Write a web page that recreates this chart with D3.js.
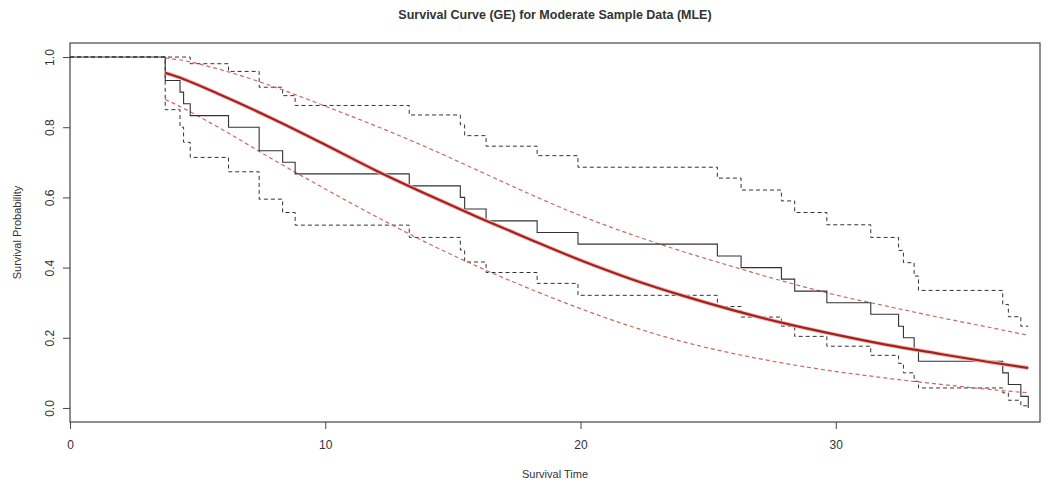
<!DOCTYPE html>
<html>
<head>
<meta charset="utf-8">
<script src="https://cdn.jsdelivr.net/npm/d3@7"></script>
<style>
  html, body { margin: 0; padding: 0; background: #fff; }
  svg { display: block; }
  text { font-family: "Liberation Sans", Arial, sans-serif; fill: #333; }
</style>
</head>
<body>
<svg id="chart" width="1059" height="488"></svg>
<script>
// ---- Kaplan-Meier estimate (step function) ----
const kmTime = [0, 3.73, 4.31, 4.45, 4.71, 6.21, 7.41, 8.33, 8.82, 13.29, 15.29, 15.46, 16.30, 18.30, 19.90,
                25.36, 26.29, 27.87, 28.39, 29.65, 31.37, 32.46, 32.65, 33.07, 33.24, 36.54, 36.76, 37.25, 37.54];
const kmSurv = [1, 0.933, 0.9, 0.867, 0.833, 0.8, 0.733, 0.7, 0.667, 0.633, 0.6, 0.567, 0.533, 0.5, 0.467,
                0.433, 0.4, 0.367, 0.333, 0.3, 0.267, 0.233, 0.2, 0.167, 0.133, 0.1, 0.067, 0.033, 0];
// KM confidence limits (same step times, last step carried to the final time)
const kmUpper = [1, 1, 1, 1, 0.981, 0.959, 0.914, 0.89, 0.862, 0.835, 0.807, 0.776, 0.746, 0.719, 0.686,
                 0.655, 0.621, 0.59, 0.557, 0.522, 0.486, 0.449, 0.414, 0.376, 0.335, 0.295, 0.26, 0.233, 0.233];
const kmLower = [1, 0.85, 0.80, 0.757, 0.714, 0.673, 0.595, 0.557, 0.521, 0.486, 0.45, 0.416, 0.386, 0.355, 0.321,
                 0.289, 0.259, 0.233, 0.204, 0.176, 0.15, 0.127, 0.1, 0.076, 0.057, 0.043, 0.022, 0.006, 0.006];

// ---- Fitted GE survival curve (MLE) with confidence band ----
const fitTime  = [3.73, 4, 6, 8, 10, 12, 14, 16, 18, 20, 22, 24, 26, 28, 30, 32, 34, 36, 37.54];
const fitSurv  = [0.955, 0.949, 0.889, 0.822, 0.750, 0.676, 0.608, 0.543, 0.481, 0.421, 0.367, 0.320, 0.278, 0.241, 0.209, 0.180, 0.155, 0.131, 0.114];
const fitUpper = [0.997, 0.995, 0.962, 0.915, 0.860, 0.803, 0.742, 0.676, 0.610, 0.548, 0.494, 0.446, 0.402, 0.360, 0.322, 0.290, 0.259, 0.230, 0.207];
const fitLower = [0.879, 0.870, 0.792, 0.706, 0.624, 0.545, 0.470, 0.402, 0.340, 0.283, 0.232, 0.189, 0.155, 0.127, 0.104, 0.085, 0.068, 0.053, 0.043];

// ---- axes ----
const xTicks = [0, 10, 20, 30];
const yTicks = [0.0, 0.2, 0.4, 0.6, 0.8, 1.0];
const title = "Survival Curve (GE) for Moderate Sample Data (MLE)";
const xLabel = "Survival Time";
const yLabel = "Survival Probability";

const svg = d3.select("#chart");
const L = 70, R = 1040, T = 43, B = 422;

const x = d3.scaleLinear().domain([0, 38]).range([L, R]);
const y = d3.scaleLinear().domain([-0.04, 1.04]).range([B, T]);

// frame
svg.append("rect").attr("x", L).attr("y", T).attr("width", R - L).attr("height", B - T)
  .attr("fill", "none").attr("stroke", "#444").attr("stroke-width", 1.2);

// x axis
const xAxis = d3.axisBottom(x).tickValues(xTicks).tickFormat(d3.format("d")).tickSize(7).tickSizeOuter(0);
const gx = svg.append("g").attr("transform", `translate(0,${B})`).call(xAxis);
gx.select(".domain").remove();
gx.selectAll(".tick line").attr("stroke", "#444");
gx.selectAll(".tick text").attr("dy", "1.45em").attr("font-size", 12)
  .style("font-family", "'Liberation Sans', Arial, sans-serif").attr("fill", "#333");

// y axis
const yAxis = d3.axisLeft(y).tickValues(yTicks).tickFormat(d3.format(".1f")).tickSize(7).tickSizeOuter(0);
const gy = svg.append("g").attr("transform", `translate(${L},0)`).call(yAxis);
gy.select(".domain").remove();
gy.selectAll(".tick line").attr("stroke", "#444");
gy.selectAll(".tick text")
  .attr("x", 0).attr("dy", 0)
  .attr("transform", "translate(-16,0) rotate(-90)")
  .attr("text-anchor", "middle")
  .attr("font-size", 12)
  .style("font-family", "'Liberation Sans', Arial, sans-serif").attr("fill", "#333");

// titles
svg.append("text").attr("x", (L + R) / 2).attr("y", 19).attr("text-anchor", "middle")
  .attr("font-size", 12.5).attr("font-weight", "bold").attr("fill", "#222").text(title);
svg.append("text").attr("x", (L + R) / 2).attr("y", 478).attr("text-anchor", "middle")
  .attr("font-size", 11).text(xLabel);
svg.append("text").attr("transform", `translate(21,${(T + B) / 2}) rotate(-90)`).attr("text-anchor", "middle")
  .attr("font-size", 11).text(yLabel);

const plot = svg.append("g");

const stepLine = d3.line().x(d => x(d[0])).y(d => y(d[1])).curve(d3.curveStepAfter);
const smooth = d3.line().x(d => x(d[0])).y(d => y(d[1])).curve(d3.curveMonotoneX);

// KM confidence limits (dashed black)
[kmUpper, kmLower].forEach(arr => {
  const pts = kmTime.map((t, i) => [t, arr[i]]);
  plot.append("path").attr("d", stepLine(pts)).attr("fill", "none")
    .attr("stroke", "#333").attr("stroke-width", 1).attr("stroke-dasharray", "4,3");
});

// fitted CI (dashed red)
[fitUpper, fitLower].forEach(arr => {
  const pts = fitTime.map((t, i) => [t, arr[i]]);
  plot.append("path").attr("d", smooth(pts)).attr("fill", "none")
    .attr("stroke", "#c96a62").attr("stroke-width", 1.2).attr("stroke-dasharray", "4,3");
});

// KM estimate
plot.append("path").attr("d", stepLine(kmTime.map((t, i) => [t, kmSurv[i]]))).attr("fill", "none")
  .attr("stroke", "#333").attr("stroke-width", 1.1);

// fitted curve
const fitPts = fitTime.map((t, i) => [t, fitSurv[i]]);
plot.append("path").attr("d", smooth(fitPts)).attr("fill", "none")
  .attr("stroke", "#f0b8b4").attr("stroke-width", 4);
plot.append("path").attr("d", smooth(fitPts)).attr("fill", "none")
  .attr("stroke", "#a8201c").attr("stroke-width", 2.2);
</script>
</body>
</html>
